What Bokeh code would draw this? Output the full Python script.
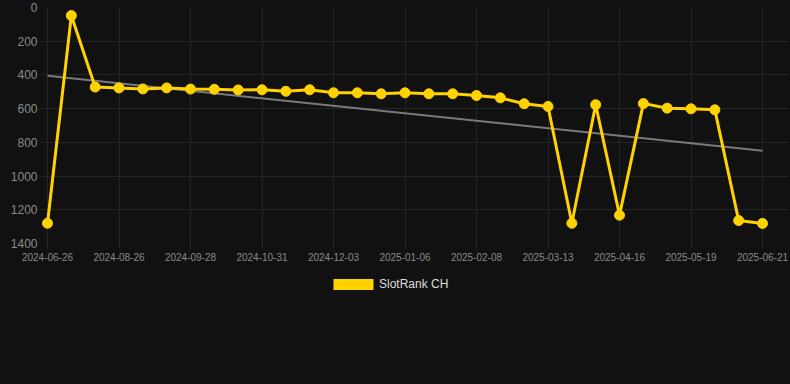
import numpy as np
from bokeh.plotting import figure
from bokeh.layouts import column
from bokeh.models import Range1d, FixedTicker, Legend, LegendItem, ColumnDataSource
from bokeh.embed import file_html
from bokeh.resources import INLINE

dates = ["2024-06-26", "2024-07-16", "2024-08-05", "2024-08-26", "2024-09-06", "2024-09-17",
         "2024-09-28", "2024-10-09", "2024-10-20", "2024-10-31", "2024-11-11", "2024-11-22",
         "2024-12-03", "2024-12-14", "2024-12-25", "2025-01-06", "2025-01-17", "2025-01-28",
         "2025-02-08", "2025-02-19", "2025-03-02", "2025-03-13", "2025-03-24", "2025-04-04",
         "2025-04-16", "2025-04-27", "2025-05-08", "2025-05-19", "2025-05-30", "2025-06-10",
         "2025-06-21"]
ranks = [1280, 48, 472, 477, 483, 477, 484, 485, 489, 488, 497, 488,
         506, 506, 512, 506, 512, 512, 522, 536, 571, 587, 1280, 577,
         1232, 570, 597, 601, 607, 1264, 1281]
y_ticks = [0, 200, 400, 600, 800, 1000, 1200, 1400]
series_name = "SlotRank CH"

BG = "#111111"
GOLD = "#FFD200"
idx = list(range(len(dates)))

p = figure(width=790, height=270, output_backend="svg", toolbar_location=None,
           background_fill_color=BG, border_fill_color=BG, outline_line_color=None,
           min_border_top=7, min_border_right=2, min_border_left=40, min_border_bottom=27,
           x_range=Range1d(-0.2937, 31.09), y_range=Range1d(1400, 0))

# trend line (least squares fit of the series)
k, b = np.polyfit(idx, ranks, 1)
p.line([idx[0], idx[-1]], [k * idx[0] + b, k * idx[-1] + b], line_color="#7a7a7a", line_width=2)

src = ColumnDataSource(dict(x=idx, y=ranks))
p.line("x", "y", source=src, line_color=GOLD, line_width=3)
p.scatter("x", "y", source=src, size=10, fill_color=GOLD, line_color=GOLD)

xt = list(range(0, len(dates), 3))
p.xaxis.ticker = FixedTicker(ticks=xt)
p.xaxis.major_label_overrides = {i: dates[i] for i in xt}
p.yaxis.ticker = FixedTicker(ticks=y_ticks)

for ax in (p.xaxis, p.yaxis):
    ax.axis_line_color = None
    ax.minor_tick_line_color = None
    ax.major_tick_line_color = "#2a2a2a"
    ax.major_label_text_color = "#8a8a8a"
    ax.major_label_text_font = "Liberation Sans"
p.xaxis.major_label_text_font_size = "10px"
p.yaxis.major_label_text_font_size = "12px"
p.xaxis.major_tick_in = 0
p.xaxis.major_tick_out = 5
p.yaxis.major_tick_in = 0
p.yaxis.major_tick_out = 0
p.xaxis.major_label_standoff = 4
p.yaxis.major_label_standoff = 3

p.xgrid.ticker = FixedTicker(ticks=xt)
p.ygrid.ticker = FixedTicker(ticks=y_ticks)
p.grid.grid_line_color = "#252525"
p.grid.grid_line_width = 1

# legend strip below the chart
lf = figure(width=790, height=114, output_backend="svg", toolbar_location=None,
            background_fill_color=BG, border_fill_color=BG, outline_line_color=None,
            min_border_top=0, min_border_bottom=0, min_border_left=40, min_border_right=2,
            x_axis_location=None, y_axis_location=None,
            x_range=Range1d(-1, 31), y_range=Range1d(0, 1500))
lf.grid.visible = False
sw = lf.vbar(x=idx, top=ranks, width=0.5, fill_color=GOLD, line_color=None, visible=False)
legend = Legend(items=[LegendItem(label=series_name, renderers=[sw])],
                orientation="horizontal", location=(288, 93),
                background_fill_alpha=0, border_line_color=None,
                label_text_color="#dddddd", label_text_font="Liberation Sans",
                label_text_font_size="12px", glyph_width=50, glyph_height=14,
                label_standoff=1, padding=0, margin=0, spacing=0,
                inactive_fill_alpha=0)
lf.add_layout(legend, "center")

layout = column(p, lf, spacing=0, background=BG)

html = file_html(layout, INLINE)
html = html.replace("</head>", "<style>html, body { background: #111111 !important; }</style></head>", 1)
open("out.html", "w").write(html)
